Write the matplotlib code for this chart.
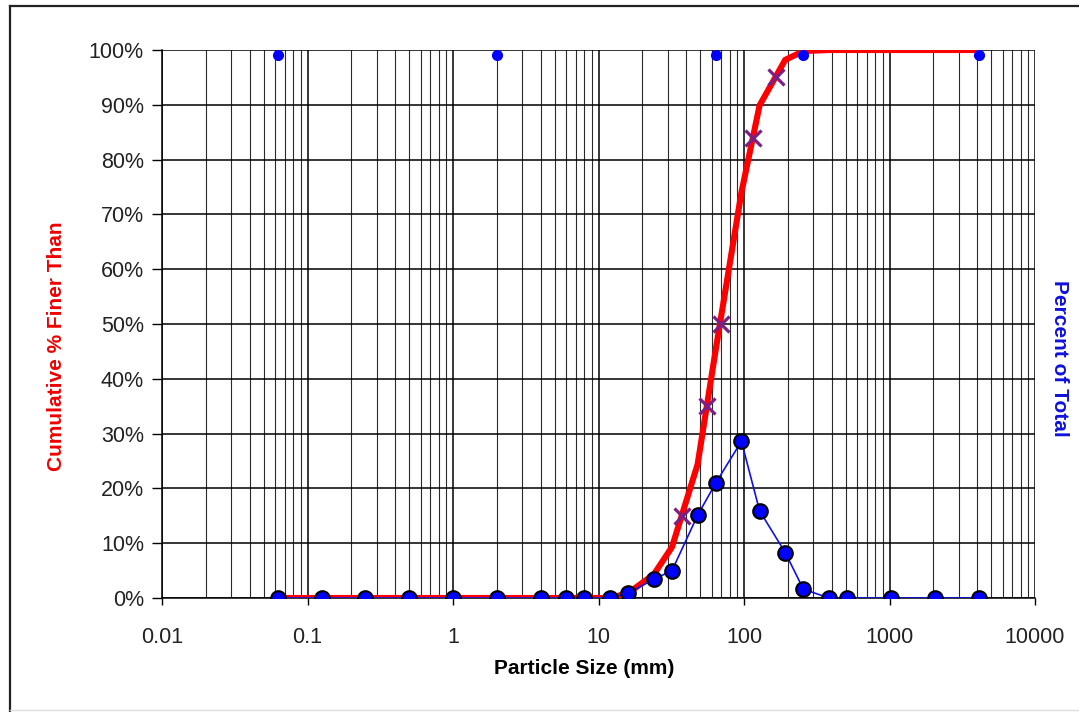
import matplotlib
matplotlib.use("Agg")
import matplotlib.pyplot as plt
from matplotlib.ticker import LogLocator, FixedLocator, FuncFormatter, NullFormatter
from matplotlib.transforms import ScaledTranslation
from matplotlib.lines import Line2D

plt.rcParams['font.family'] = ['Liberation Sans', 'DejaVu Sans']

# Sieve class sizes (mm) and the share of the sample retained in each class (%)
sizes = [0.0625, 0.125, 0.25, 0.5, 1, 2, 4, 6, 8, 12, 16, 24, 32, 48, 64,
         96, 128, 192, 256, 384, 512, 1024, 2048, 4096]
percent_total = [0, 0, 0, 0, 0, 0, 0, 0, 0, 0, 0.9, 3.4, 5.0, 15.1, 21.0,
                 28.6, 15.9, 8.3, 1.6, 0, 0, 0, 0, 0]
# Cumulative percent finer than each size
cumulative = [0, 0, 0, 0, 0, 0, 0, 0, 0, 0, 0.9, 4.3, 9.3, 24.4, 45.4,
              74.0, 89.9, 98.2, 99.8, 100, 100, 100, 100, 100]

# Characteristic grain sizes (D15, D35, D50, D84, D95)
d_percent = [15, 35, 50, 84, 95]
d_sizes = [37.3, 55.4, 69.2, 115.8, 165.0]

# Wentworth class boundaries (silt/sand, sand/gravel, gravel/cobble, cobble/boulder, max)
class_bounds = [0.0625, 2, 64, 256, 4096]
class_level = [100, 100, 100, 100, 100]

x_ticks = [0.01, 0.1, 1, 10, 100, 1000, 10000]
x_tick_labels = ["0.01", "0.1", "1", "10", "100", "1000", "10000"]
y_ticks = list(range(0, 101, 10))

W, H = 1079, 712
fig = plt.figure(figsize=(W / 100, H / 100), dpi=100)
ax = fig.add_axes([162 / W, 1 - 598 / H, (1035 - 162) / W, (598 - 50) / H])

ax.set_xscale('log')
ax.set_xlim(0.01, 10000)
ax.set_ylim(0, 100)

# Grid: decades and every 10 %, plus log minor lines
ax.xaxis.set_major_locator(FixedLocator(x_ticks))
ax.xaxis.set_major_formatter(FuncFormatter(lambda v, p: x_tick_labels[x_ticks.index(v)] if v in x_ticks else ""))
ax.xaxis.set_minor_locator(LogLocator(base=10, subs=range(2, 10), numticks=100))
ax.xaxis.set_minor_formatter(NullFormatter())
ax.set_yticks(y_ticks)
ax.yaxis.set_major_formatter(FuncFormatter(lambda v, p: f"{v:.0f}%"))

ax.grid(True, which='major', axis='both', color='black', lw=1.1)
ax.grid(True, which='minor', axis='x', color='#2a2a2a', lw=0.8)
ax.set_axisbelow(True)

ax.tick_params(axis='x', which='major', direction='out', length=5, width=1, color='black',
               labelsize=15.5, labelcolor='#222222', pad=16)
ax.tick_params(axis='x', which='minor', length=0)
ax.tick_params(axis='y', which='major', direction='out', length=7, width=1, color='black',
               labelsize=15.5, labelcolor='#222222', pad=6)
for s in ['top', 'right']:
    ax.spines[s].set_visible(False)
for s in ['left', 'bottom']:
    ax.spines[s].set_color('black')
    ax.spines[s].set_linewidth(1.1)

# Cumulative curve
ax.plot(sizes, cumulative, color='#ff0000', lw=4.4, zorder=3, solid_capstyle='butt')
# Characteristic sizes
ax.plot(d_sizes, d_percent, linestyle='none', marker='x', markersize=11,
        markeredgewidth=2.3, color='#7a1f86', zorder=4)

# Percent of total on secondary axis
ax2 = ax.twinx()
ax2.set_ylim(0, 100)
ax2.set_yticks([])
for s in ax2.spines.values():
    s.set_visible(False)
ax2.plot(sizes, percent_total, color='#1010ee', lw=1.2, marker='o', markersize=10.5,
         markerfacecolor='#0000ff', markeredgecolor='black', markeredgewidth=1.5, zorder=5)

# Class boundary markers along the top edge
off = ax2.transData + ScaledTranslation(0, -3.5 / 72, fig.dpi_scale_trans)
ax2.plot(class_bounds, class_level, linestyle='none', marker='o', markersize=7,
         color='#0000ff', transform=off, clip_on=True, zorder=6)

# Axis titles
fig.text(584 / W, 1 - 668 / H, "Particle Size (mm)", ha='center', va='center',
         fontsize=15, fontweight='bold', color='black')
fig.text(57 / W, 1 - 346 / H, "Cumulative % Finer Than", ha='center', va='center',
         rotation=90, fontsize=15, fontweight='bold', color='#ee0000')
fig.text(1060 / W, 1 - 358 / H, "Percent of Total", ha='center', va='center',
         rotation=-90, fontsize=15, fontweight='bold', color='#1010dd')

# Outer frame
fig.add_artist(Line2D([10 / W, 10 / W], [0, 1 - 6 / H], transform=fig.transFigure,
                      color='#222222', lw=1.6))
fig.add_artist(Line2D([10 / W, 1], [1 - 6 / H, 1 - 6 / H], transform=fig.transFigure,
                      color='#222222', lw=1.6))
fig.add_artist(Line2D([10 / W, 1], [1 - 710 / H, 1 - 710 / H], transform=fig.transFigure,
                      color='#dddddd', lw=1.0))

fig.savefig("out.png", dpi=100)
